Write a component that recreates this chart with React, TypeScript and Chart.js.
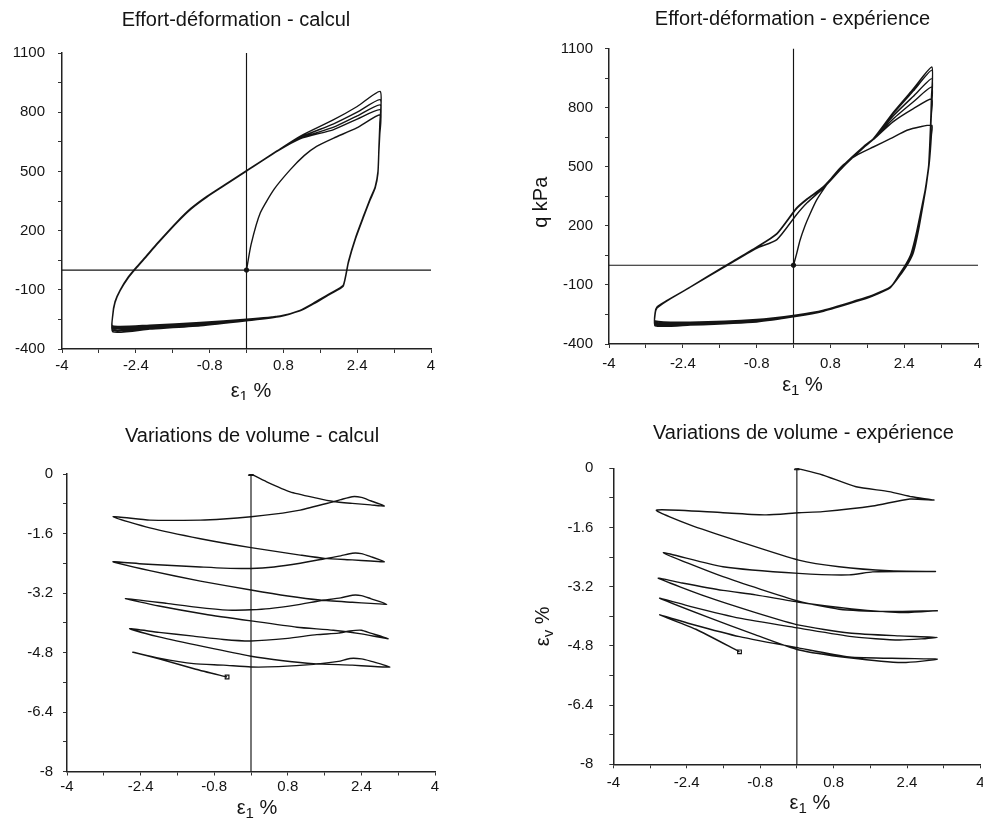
import React, { useEffect, useRef } from 'react';
import { Chart, registerables } from 'chart.js';

Chart.register(...registerables);

type Pt = [number, number];

// ---------- axes ----------
const strainRange: Pt = [-4, 4];
const strainTickStep = 0.8;
const stressRange: Pt = [-400, 1100];
const stressTickStep = 150;
const volumeRange: Pt = [-8, 0];
const volumeTickStep = 0.8;

// ---------- titles ----------
const panelTitles = [
  'Effort-déformation - calcul',
  'Effort-déformation - expérience',
  'Variations de volume - calcul',
  'Variations de volume - expérience',
];

// ---------- q (kPa) vs eps1 (%) : computed ----------
const calcStressPath: Pt[] = [
  [0, 0], [0.1, 130], [0.3, 290], [0.6, 410], [0.95, 509], [1.25, 580], [1.52, 627], [1.89, 669], [2.39, 720], [2.9, 787],
  [2.89, 690], [2.87, 600], [2.85, 490], [2.79, 415], [2.68, 355], [2.54, 270], [2.36, 156], [2.21, 38], [2.1, -80], [1.95, -104], [1.74, -132], [1.45, -172], [1.16, -207], [0.73, -232], [0, -249], [-1.0, -266], [-2.1, -279], [-2.9, -283],
  [-2.9, -232], [-2.85, -164], [-2.74, -105], [-2.56, -38], [-2.38, 13], [-2.16, 71], [-1.95, 128], [-1.51, 240], [-1.2, 310], [-0.86, 370], [-0.4, 440], [0, 501], [0.66, 601], [1.16, 665], [1.89, 712], [2.4, 765], [2.9, 812],
  [2.89, 700], [2.87, 605], [2.85, 492], [2.79, 418], [2.68, 357], [2.54, 272], [2.36, 158], [2.21, 40], [2.1, -79], [1.95, -103], [1.74, -131], [1.45, -171], [1.16, -206], [0.73, -233], [0, -251], [-1.0, -270], [-2.1, -284], [-2.9, -290],
  [-2.9, -230], [-2.85, -162], [-2.74, -104], [-2.56, -37], [-2.38, 14], [-2.16, 72], [-1.95, 129], [-1.51, 241], [-1.2, 311], [-0.86, 371], [-0.4, 441], [0, 502], [0.66, 602], [1.16, 668], [1.89, 724], [2.4, 781], [2.9, 837],
  [2.89, 710], [2.87, 610], [2.85, 495], [2.79, 420], [2.68, 359], [2.54, 274], [2.36, 160], [2.21, 42], [2.1, -78], [1.95, -102], [1.74, -130], [1.45, -170], [1.16, -205], [0.73, -234], [0, -253], [-1.0, -274], [-2.1, -289], [-2.9, -297],
  [-2.9, -229], [-2.85, -161], [-2.74, -103], [-2.56, -36], [-2.38, 15], [-2.16, 73], [-1.95, 130], [-1.51, 242], [-1.2, 312], [-0.86, 372], [-0.4, 442], [0, 503], [0.66, 603], [1.16, 672], [1.89, 741], [2.4, 800], [2.9, 863],
  [2.89, 720], [2.87, 614], [2.85, 497], [2.79, 421], [2.68, 360], [2.54, 275], [2.36, 161], [2.21, 43], [2.1, -77], [1.95, -101], [1.74, -129], [1.45, -169], [1.16, -205], [0.73, -235], [0, -255], [-1.0, -278], [-2.1, -294], [-2.9, -305],
  [-2.9, -228], [-2.85, -160], [-2.74, -102], [-2.56, -35], [-2.38, 16], [-2.16, 74], [-1.95, 131], [-1.51, 243], [-1.2, 313], [-0.86, 373], [-0.4, 443], [0, 504], [0.66, 604], [1.16, 678], [1.89, 762], [2.4, 829], [2.9, 905],
  [2.89, 740], [2.87, 620], [2.85, 500], [2.79, 423], [2.68, 361], [2.54, 276], [2.36, 162], [2.21, 44], [2.1, -76], [1.95, -100], [1.74, -128], [1.45, -168], [1.16, -204], [0.73, -236], [0, -257], [-1.0, -282], [-2.1, -299], [-2.9, -313],
  [-2.9, -227], [-2.85, -159], [-2.74, -101], [-2.56, -34], [-2.38, 17], [-2.16, 75], [-1.95, 132], [-1.51, 244], [-1.2, 314], [-0.86, 374], [-0.6, 412],
];

// ---------- q (kPa) vs eps1 (%) : experiment ----------
const expStressPath: Pt[] = [
  [0, 0], [0.07, 60], [0.14, 125], [0.25, 200], [0.36, 261], [0.5, 330], [0.65, 385], [0.85, 450], [1.08, 510], [1.4, 562], [1.73, 600], [2.1, 642], [2.46, 685], [2.75, 703], [3.0, 710],
  [2.99, 660], [2.97, 590], [2.94, 510], [2.88, 410], [2.82, 330], [2.68, 165], [2.58, 65], [2.47, 10], [2.32, -42], [2.1, -110], [1.7, -153], [1.37, -178], [0.65, -228], [0.07, -252], [-0.8, -276], [-2.24, -289], [-3.0, -283],
  [-3.0, -240], [-2.96, -212], [-2.75, -180], [-2.24, -112], [-1.52, -12], [-0.8, 86], [-0.36, 130], [0.06, 255], [0.3, 318], [0.65, 392], [1.08, 500], [1.52, 596], [1.73, 638], [2.17, 730], [2.6, 795], [3.0, 845],
  [2.99, 770], [2.97, 670], [2.93, 500], [2.87, 400], [2.81, 330], [2.66, 160], [2.55, 60], [2.44, 7], [2.3, -44], [2.1, -112], [1.7, -155], [1.37, -180], [0.65, -230], [0.07, -256], [-0.8, -280], [-2.24, -293], [-3.0, -290],
  [-3.0, -242], [-2.96, -214], [-2.75, -181], [-2.24, -112], [-1.52, -9], [-0.8, 90], [-0.36, 158], [0.06, 285], [0.3, 335], [0.65, 396], [1.08, 505], [1.52, 600], [1.73, 640], [2.17, 745], [2.6, 830], [3.0, 905],
  [2.99, 800], [2.97, 680], [2.93, 502], [2.87, 402], [2.82, 332], [2.68, 162], [2.58, 62], [2.47, 8], [2.32, -43], [2.1, -112], [1.7, -156], [1.37, -181], [0.65, -231], [0.07, -257], [-0.8, -282], [-2.24, -296], [-3.0, -295],
  [-3.0, -244], [-2.96, -215], [-2.75, -180], [-2.24, -111], [-1.52, -8], [-0.8, 92], [-0.36, 160], [0.06, 288], [0.3, 337], [0.65, 398], [1.08, 507], [1.52, 602], [1.73, 641], [2.17, 760], [2.6, 858], [3.0, 947],
  [2.99, 820], [2.97, 690], [2.93, 505], [2.88, 405], [2.83, 335], [2.7, 165], [2.6, 64], [2.49, 10], [2.34, -42], [2.1, -113], [1.7, -157], [1.37, -182], [0.65, -232], [0.07, -258], [-0.8, -284], [-2.24, -299], [-3.0, -300],
  [-3.0, -246], [-2.96, -216], [-2.75, -181], [-2.24, -111], [-1.52, -8], [-0.8, 92], [-0.36, 161], [0.06, 289], [0.3, 338], [0.65, 399], [1.08, 508], [1.52, 603], [1.73, 642], [2.17, 772], [2.6, 885], [3.0, 990],
  [2.99, 840], [2.97, 700], [2.93, 506], [2.87, 404], [2.82, 333], [2.67, 160], [2.56, 60], [2.45, 6], [2.3, -45], [2.1, -113], [1.7, -157], [1.37, -183], [0.65, -233], [0.07, -259], [-0.8, -286], [-2.24, -302], [-3.0, -304],
  [-3.0, -248], [-2.96, -217], [-2.75, -182], [-2.24, -112], [-1.52, -9], [-0.8, 91], [-0.36, 160], [0.06, 287], [0.3, 337], [0.65, 398], [1.08, 508], [1.52, 603], [1.73, 642], [2.17, 778], [2.6, 896], [3.0, 1006],
  [2.99, 850], [2.97, 705], [2.93, 507], [2.87, 405], [2.82, 334], [2.68, 163], [2.58, 63], [2.47, 9], [2.32, -43], [2.1, -114], [1.7, -158], [1.37, -184], [0.65, -234], [0.07, -260], [-0.8, -288], [-2.24, -304], [-3.0, -308],
  [-3.0, -250], [-2.96, -218], [-2.75, -182], [-2.24, -112], [-1.52, -10], [-1.25, 30],
];

// ---------- eps_v (%) vs eps1 (%) : computed ----------
const calcVolumePath: Pt[] = [
  [0, 0], [0.34, -0.21], [0.85, -0.48], [1.43, -0.65], [1.79, -0.74], [2.2, -0.79], [2.6, -0.83], [2.9, -0.86],
  [2.6, -0.72], [2.4, -0.63], [2.2, -0.61], [1.95, -0.69], [1.72, -0.77], [1.07, -0.97], [0.5, -1.08], [0, -1.15], [-0.6, -1.21], [-1.1, -1.24], [-2.2, -1.24], [-3.0, -1.15],
  [-2.2, -1.45], [-1.1, -1.74], [0, -1.98], [1.07, -2.18], [1.6, -2.27], [2.2, -2.31], [2.6, -2.34], [2.9, -2.36],
  [2.6, -2.22], [2.4, -2.14], [2.2, -2.13], [1.95, -2.2], [1.6, -2.28], [1.07, -2.4], [0.5, -2.5], [0, -2.54], [-0.6, -2.53], [-1.1, -2.5], [-2.34, -2.42], [-3.0, -2.36],
  [-2.2, -2.6], [-1.1, -2.88], [0, -3.12], [0.8, -3.28], [1.5, -3.39], [2.2, -3.45], [2.6, -3.48], [2.95, -3.5],
  [2.6, -3.35], [2.4, -3.27], [2.2, -3.26], [1.95, -3.33], [1.5, -3.41], [1.0, -3.52], [0.4, -3.62], [0, -3.65], [-0.5, -3.66], [-1.2, -3.58], [-1.83, -3.48], [-2.73, -3.35],
  [-2.0, -3.55], [-1.0, -3.77], [0, -3.95], [1.0, -4.12], [1.79, -4.2], [2.4, -4.3], [2.98, -4.43],
  [2.6, -4.28], [2.4, -4.2], [2.15, -4.22], [1.9, -4.28], [1.43, -4.32], [0.8, -4.42], [0, -4.49], [-0.6, -4.45], [-1.25, -4.36], [-2.0, -4.26], [-2.64, -4.16],
  [-2.0, -4.38], [-1.0, -4.65], [0, -4.9], [0.7, -5.02], [1.36, -5.1], [2.2, -5.14], [2.6, -5.17], [3.02, -5.19],
  [2.6, -5.03], [2.4, -4.97], [2.15, -4.96], [1.9, -5.04], [1.36, -5.12], [0.6, -5.18], [0, -5.19], [-0.6, -5.14], [-1.25, -5.1], [-2.0, -4.95], [-2.57, -4.79],
  [-2.0, -4.97], [-1.2, -5.25], [-0.52, -5.46],
];

// ---------- eps_v (%) vs eps1 (%) : experiment ----------
const expVolumePath: Pt[] = [
  [0, 0], [0.56, -0.18], [1.29, -0.5], [2.01, -0.63], [2.51, -0.77], [2.99, -0.86],
  [2.46, -0.83], [1.65, -1.02], [0.56, -1.17], [0.04, -1.2], [-0.67, -1.26], [-1.61, -1.2], [-3.06, -1.13],
  [-2.33, -1.53], [-1.25, -1.98], [0.04, -2.48], [0.92, -2.66], [2.01, -2.77], [3.02, -2.79],
  [2.3, -2.79], [1.65, -2.8], [1.14, -2.88], [0.04, -2.84], [-1.61, -2.66], [-2.91, -2.28],
  [-1.61, -2.93], [0.04, -3.59], [0.92, -3.81], [2.01, -3.87], [3.06, -3.85],
  [2.23, -3.9], [1.2, -3.8], [0.05, -3.62], [-0.9, -3.42], [-1.61, -3.3], [-2.5, -3.1], [-3.02, -2.97],
  [-1.97, -3.47], [-0.9, -3.9], [0.05, -4.24], [1.14, -4.45], [2.23, -4.53], [3.06, -4.57],
  [2.23, -4.64], [1.2, -4.55], [0.05, -4.32], [-1.25, -4.05], [-2.33, -3.73], [-2.99, -3.51],
  [-1.97, -4.01], [-0.9, -4.5], [0.05, -4.91], [1.14, -5.12], [2.3, -5.25], [3.06, -5.16],
  [2.34, -5.14], [1.14, -5.1], [0.05, -4.86], [-1.25, -4.55], [-2.33, -4.2], [-2.99, -3.96],
  [-2.2, -4.35], [-1.25, -4.96],
];

// ---------- reference lines & markers ----------
const stressZeroH: Pt[] = [[-4, 0], [4, 0]];
const stressZeroV: Pt[] = [[0, -400], [0, 1100]];
const volumeZeroV: Pt[] = [[0, -8], [0, 0]];
const startPoint: Pt[] = [[0, 0]];
const calcVolumeEnd: Pt[] = [[-0.52, -5.46]];
const expVolumeEnd: Pt[] = [[-1.25, -4.96]];

// ---------- styling / layout ----------
const INK = '#141414';
const FONT = '"Liberation Sans", Arial, Helvetica, sans-serif';

interface AxisTitle { main: string; sub: string; rest: string; dx: number; dy: number; }
interface Layout {
  left: number; top: number; width: number; height: number;
  padL: number; padR: number; padT: number; yW: number; xH: number;
  titleDx: number; titleY: number;
  yTickPad: number; xTickPad: number;
  xTitle: AxisTitle; yTitle?: AxisTitle;
}
interface PanelSpec {
  title: string; path: Pt[]; yRange: Pt; yStep: number;
  refs: Pt[][]; endMarker?: Pt[]; volume: boolean; layout: Layout;
}

const eps1: AxisTitle = { main: 'ε', sub: '1', rest: ' %', dx: 0, dy: 0 };

const panels: PanelSpec[] = [
  {
    title: panelTitles[0], path: calcStressPath, yRange: stressRange, yStep: stressTickStep,
    refs: [stressZeroH, stressZeroV], volume: false,
    layout: { left: 0, top: 0, width: 470, height: 400, padL: 4, padR: 39, padT: 53, yW: 58, xH: 51,
      titleDx: -10.5, titleY: 20, yTickPad: 13, xTickPad: 4,
      xTitle: { ...eps1, dx: 4.5, dy: 42 } },
  },
  {
    title: panelTitles[1], path: expStressPath, yRange: stressRange, yStep: stressTickStep,
    refs: [stressZeroH, stressZeroV], volume: false,
    layout: { left: 490, top: 0, width: 500, height: 400, padL: 60, padR: 12, padT: 48.5, yW: 59, xH: 56,
      titleDx: -1, titleY: 19, yTickPad: 12, xTickPad: 6.7,
      xTitle: { ...eps1, dx: 9, dy: 41 },
      yTitle: { main: 'q kPa', sub: '', rest: '', dx: -68, dy: 6 } },
  },
  {
    title: panelTitles[2], path: calcVolumePath, yRange: volumeRange, yStep: volumeTickStep,
    refs: [volumeZeroV], endMarker: calcVolumeEnd, volume: true,
    layout: { left: 0, top: 400, width: 470, height: 420, padL: 0, padR: 35, padT: 74, yW: 67, xH: 48.5,
      titleDx: 1, titleY: 36, yTickPad: 10, xTickPad: 2.7,
      xTitle: { ...eps1, dx: 6, dy: 36.5 } },
  },
  {
    title: panelTitles[3], path: expVolumePath, yRange: volumeRange, yStep: volumeTickStep,
    refs: [volumeZeroV], endMarker: expVolumeEnd, volume: true,
    layout: { left: 490, top: 400, width: 500, height: 420, padL: 0, padR: 8.3, padT: 68.3, yW: 123.3, xH: 55.7,
      titleDx: 6.5, titleY: 33, yTickPad: 16, xTickPad: 5.4,
      xTitle: { ...eps1, dx: 13, dy: 38.7 },
      yTitle: { main: 'ε', sub: 'v', rest: ' %', dx: -70, dy: 10 } },
  },
];

const toXY = (pts: Pt[]) => pts.map(([x, y]) => ({ x, y }));
const everyOther = (value: number | string, index: number) => (index % 2 === 0 ? String(value) : '');

function drawSubText(ctx: CanvasRenderingContext2D, cx: number, cy: number, t: AxisTitle, rotate: boolean) {
  const big = `20px ${FONT}`;
  const small = `15px ${FONT}`;
  ctx.save();
  ctx.translate(cx, cy);
  if (rotate) ctx.rotate(-Math.PI / 2);
  ctx.textBaseline = 'middle';
  ctx.textAlign = 'left';
  ctx.fillStyle = INK;
  ctx.font = big;
  const w1 = ctx.measureText(t.main).width;
  const w3 = t.rest ? ctx.measureText(t.rest).width : 0;
  ctx.font = small;
  const w2 = t.sub ? ctx.measureText(t.sub).width : 0;
  let x = -(w1 + w2 + w3) / 2;
  ctx.font = big;
  ctx.fillText(t.main, x, 0);
  x += w1;
  if (t.sub) {
    ctx.font = small;
    ctx.fillText(t.sub, x, 6);
    x += w2;
  }
  if (t.rest) {
    ctx.font = big;
    ctx.fillText(t.rest, x, 0);
  }
  ctx.restore();
}

function textPlugin(p: PanelSpec) {
  const L = p.layout;
  return {
    id: 'panelTexts',
    afterDraw(chart: Chart) {
      const a = chart.chartArea;
      const ctx = chart.ctx;
      const cx = (a.left + a.right) / 2;
      ctx.save();
      ctx.font = `20px ${FONT}`;
      ctx.fillStyle = INK;
      ctx.textAlign = 'center';
      ctx.textBaseline = 'middle';
      ctx.fillText(p.title, cx + L.titleDx, L.titleY);
      ctx.restore();
      drawSubText(ctx, cx + L.xTitle.dx, a.bottom + L.xTitle.dy, L.xTitle, false);
      if (L.yTitle) {
        drawSubText(ctx, a.left + L.yTitle.dx, (a.top + a.bottom) / 2 + L.yTitle.dy, L.yTitle, true);
      }
    },
  };
}

function buildConfig(p: PanelSpec): any {
  const L = p.layout;
  const lineStyle = { showLine: true, borderColor: INK, pointRadius: 0, fill: false };
  const datasets: any[] = [
    ...p.refs.map((r) => ({ ...lineStyle, data: toXY(r), borderWidth: 1.15, tension: 0 })),
    { ...lineStyle, data: toXY(p.path), borderWidth: 1.4, tension: 0.2 },
    {
      data: toXY(startPoint), showLine: false, pointRadius: p.volume ? 3 : 2.2,
      pointStyle: p.volume ? 'triangle' : 'circle', backgroundColor: INK, borderColor: INK, borderWidth: 1,
    },
  ];
  if (p.endMarker) {
    datasets.push({
      data: toXY(p.endMarker), showLine: false, pointRadius: 2.6, pointStyle: 'rect',
      backgroundColor: '#ffffff', borderColor: INK, borderWidth: 1.2,
    });
  }
  const tickFont = { family: FONT, size: 15 };
  const grid = { display: true, drawOnChartArea: false, drawTicks: true, tickLength: 4, color: '#333', lineWidth: 1 };
  const border = { display: true, color: '#222', width: 1.5 };
  return {
    type: 'scatter',
    data: { datasets },
    options: {
      responsive: false,
      animation: false,
      events: [],
      layout: { padding: { left: L.padL, right: L.padR, top: L.padT, bottom: 0 } },
      plugins: {
        legend: { display: false },
        tooltip: { enabled: false },
        title: { display: false },
      },
      scales: {
        x: {
          type: 'linear', position: 'bottom', min: strainRange[0], max: strainRange[1],
          afterFit: (s: any) => { s.height = L.xH; },
          ticks: { stepSize: strainTickStep, autoSkip: false, maxRotation: 0, minRotation: 0, padding: L.xTickPad, color: INK, font: tickFont, callback: everyOther },
          grid, border,
        },
        y: {
          type: 'linear', position: 'left', min: p.yRange[0], max: p.yRange[1],
          afterFit: (s: any) => { s.width = L.yW; },
          ticks: { stepSize: p.yStep, autoSkip: false, padding: L.yTickPad, color: INK, font: tickFont, callback: everyOther },
          grid, border,
        },
      },
    },
    plugins: [textPlugin(p)],
  };
}

function Panel({ spec }: { spec: PanelSpec }) {
  const ref = useRef<HTMLCanvasElement>(null);
  useEffect(() => {
    if (!ref.current) return;
    const chart = new Chart(ref.current, buildConfig(spec));
    return () => chart.destroy();
  }, [spec]);
  const L = spec.layout;
  return (
    <canvas
      ref={ref}
      width={L.width}
      height={L.height}
      style={{ position: 'absolute', left: L.left, top: L.top, width: L.width, height: L.height }}
    />
  );
}

export default function App() {
  return (
    <div style={{ position: 'fixed', left: 0, top: 0, width: 983, height: 820, overflow: 'hidden', background: '#ffffff' }}>
      {panels.map((p) => (
        <Panel key={p.title} spec={p} />
      ))}
    </div>
  );
}
